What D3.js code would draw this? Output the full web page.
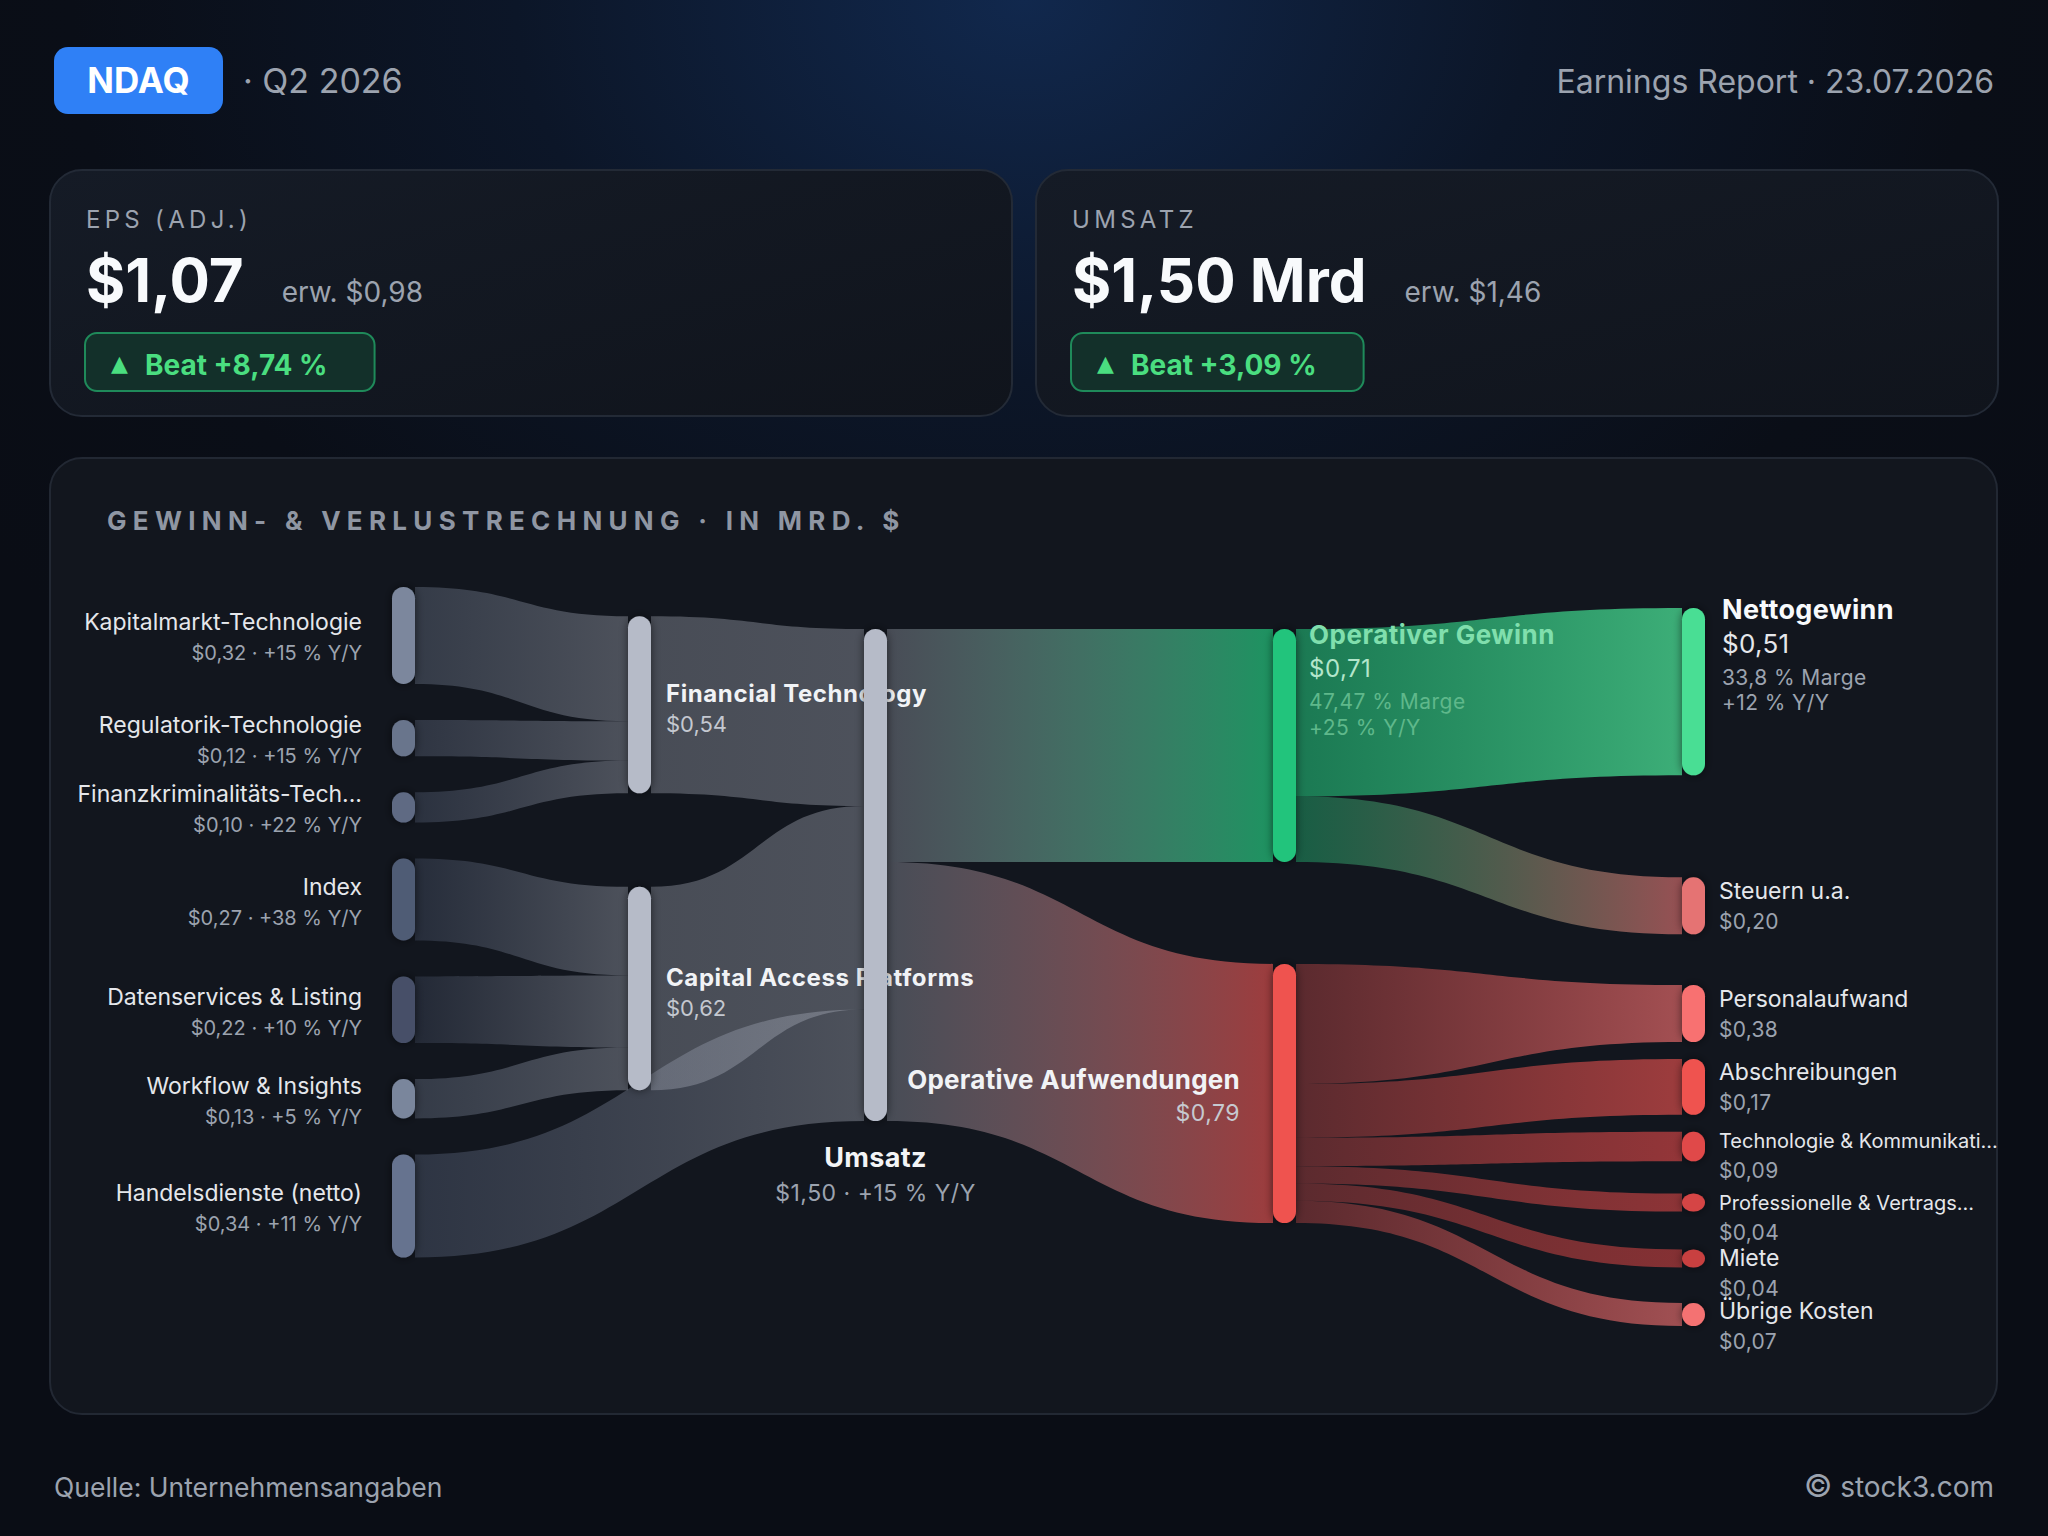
<!DOCTYPE html>
<html>
<head>
<meta charset="utf-8">
<script src="https://cdn.jsdelivr.net/npm/d3@7"></script>
<style>
  html, body { margin: 0; padding: 0; background: #0a0e16; }
  svg { display: block; font-family: Inter, 'Noto Sans', sans-serif; }
</style>
</head>
<body>
<svg id="chart" width="2048" height="1536"></svg>
<script>
const W = 2048
const H = 1536

// Kopfzeile und Kennzahlen
const ticker = 'NDAQ'
const quarter = 'Q2 2026'
const reportDate = '23.07.2026'
const kpiTitles = ['EPS (ADJ.)', 'UMSATZ']
const kpiActual = [1.07, 1.50]
const kpiUnit = ['', ' Mrd']
const kpiEstimate = [0.98, 1.46]
const kpiBeat = [8.74, 3.09]

// Segmente (linke Spalte)
const segmentNames = ['Kapitalmarkt-Technologie', 'Regulatorik-Technologie', 'Finanzkriminalitäts-Tech...', 'Index', 'Datenservices & Listing', 'Workflow & Insights', 'Handelsdienste (netto)']
const segmentValues = [0.32, 0.12, 0.10, 0.27, 0.22, 0.13, 0.34]
const segmentGrowth = [15, 15, 22, 38, 10, 5, 11]
const segmentDivision = [0, 0, 0, 1, 1, 1, -1] // -1 = direkt in den Umsatz

// Sparten und Umsatz
const divisionNames = ['Financial Technology', 'Capital Access Platforms']
const divisionValues = [0.54, 0.62]
const revenueName = 'Umsatz'
const revenueValue = 1.50
const revenueGrowth = 15

// Operatives Ergebnis
const opNames = ['Operativer Gewinn', 'Operative Aufwendungen']
const opValues = [0.71, 0.79]
const opMargin = 47.47
const opGrowth = 25

// Rechte Spalte
const netName = 'Nettogewinn'
const netValue = 0.51
const netMargin = 33.8
const netGrowth = 12
const taxName = 'Steuern u.a.'
const taxValue = 0.20
const costNames = ['Personalaufwand', 'Abschreibungen', 'Technologie & Kommunikati...', 'Professionelle & Vertrags...', 'Miete', 'Übrige Kosten']
const costValues = [0.38, 0.17, 0.09, 0.04, 0.04, 0.07]

// Farben
const nodeColor = {
  seg0: '#7b879d', seg1: '#69748c', seg2: '#5e6a83', seg3: '#505c75', seg4: '#465067', seg5: '#7a869c', seg6: '#66738f',
  div0: '#b6bbc8', div1: '#b6bbc8', rev: '#b6bbc8',
  op0: '#22c47b', op1: '#ef5350', net: '#4ade94', tax: '#e57373',
  cost0: '#f87171', cost1: '#ef5350', cost2: '#e04848', cost3: '#d54545', cost4: '#c84040', cost5: '#f47272'
}

const de = d3.formatLocale({ decimal: ',', thousands: '.', grouping: [3], currency: ['$', ''] })
const money = de.format('$.2f')
const f2 = de.format('.2f')
const f1 = de.format('.1f')

const svg = d3.select('#chart')
const defs = svg.append('defs')

// Hintergrund
const glow = defs.append('radialGradient').attr('id', 'bgGlow').attr('cx', 0.5).attr('cy', 0).attr('r', 0.62)
glow.selectAll('stop')
  .data([[0, '#11284d'], [0.4, '#0c1628'], [0.75, '#0a0e17'], [1, '#0a0d15']])
  .join('stop')
  .attr('offset', d => d[0])
  .attr('stop-color', d => d[1])
svg.append('rect').attr('width', W).attr('height', H).attr('fill', '#0a0e16')
svg.append('rect').attr('width', W).attr('height', H).attr('fill', 'url(#bgGlow)')

const cardFill = defs.append('linearGradient').attr('id', 'cardFill').attr('x1', 0).attr('y1', 0).attr('x2', 1).attr('y2', 1)
cardFill.append('stop').attr('offset', 0).attr('stop-color', '#151b26')
cardFill.append('stop').attr('offset', 1).attr('stop-color', '#10141c')

const shadow = defs.append('filter').attr('id', 'nodeShadow')
  .attr('x', '-150%').attr('y', '-30%').attr('width', '400%').attr('height', '160%')
shadow.append('feDropShadow').attr('dx', 0).attr('dy', 0).attr('stdDeviation', 5)
  .attr('flood-color', '#000').attr('flood-opacity', 0.55)

// Kopfzeile
svg.append('rect').attr('x', 54).attr('y', 47).attr('width', 169).attr('height', 67).attr('rx', 14).attr('fill', '#2f80f6')
svg.append('text').attr('x', 138.5).attr('y', 93).attr('text-anchor', 'middle')
  .attr('font-size', 35).attr('font-weight', 700).attr('fill', '#ffffff').text(ticker)
svg.append('text').attr('x', 243).attr('y', 93).attr('font-size', 34).attr('fill', '#9ca3af').text(`· ${quarter}`)
svg.append('text').attr('x', 1994).attr('y', 93).attr('text-anchor', 'end')
  .attr('font-size', 32).attr('fill', '#9ca3af').text(`Earnings Report · ${reportDate}`)

// Kennzahlkarten
const cardX = [50, 1036]
kpiTitles.forEach((title, i) => {
  const g = svg.append('g').attr('transform', `translate(${cardX[i]},170)`)
  g.append('rect').attr('width', 962).attr('height', 246).attr('rx', 32)
    .attr('fill', 'url(#cardFill)').attr('stroke', '#232a36').attr('stroke-width', 2)
  g.append('text').attr('x', 36).attr('y', 58).attr('font-size', 24).attr('letter-spacing', 4.3)
    .attr('fill', '#9ca3af').text(title)
  const big = g.append('text').attr('x', 36).attr('y', 132).attr('font-size', 60).attr('font-weight', 700)
    .attr('fill', '#f8fafc').text(money(kpiActual[i]) + kpiUnit[i])
  const bigEnd = 36 + big.node().getComputedTextLength()
  g.append('text').attr('x', bigEnd + 38).attr('y', 132).attr('font-size', 28)
    .attr('fill', '#9ca3af').text(`erw. ${money(kpiEstimate[i])}`)
  const pill = g.append('rect').attr('x', 35).attr('y', 163).attr('height', 58).attr('rx', 12)
    .attr('fill', '#13302a').attr('stroke', '#1f8a5a').attr('stroke-width', 2)
  g.append('text').attr('x', 61).attr('y', 201).attr('font-size', 22).attr('fill', '#4ade80')
    .attr('font-family', 'DejaVu Sans').text('▲')
  const beat = g.append('text').attr('x', 95).attr('y', 205).attr('font-size', 28).attr('font-weight', 700)
    .attr('fill', '#4ade80').text(`Beat +${f2(kpiBeat[i])} %`)
  pill.attr('width', 95 + beat.node().getComputedTextLength() + 47 - 35)
})

// Panel
svg.append('rect').attr('x', 50).attr('y', 458).attr('width', 1947).attr('height', 956).attr('rx', 32)
  .attr('fill', '#12161e').attr('stroke', '#222833').attr('stroke-width', 2)
svg.append('text').attr('x', 107).attr('y', 530).attr('font-size', 26).attr('font-weight', 700)
  .attr('letter-spacing', 6.3).attr('fill', '#8f96a3').text('GEWINN- & VERLUSTRECHNUNG · IN MRD. $')

// Fussleiste
svg.append('text').attr('x', 54).attr('y', 1497).attr('font-size', 26.5).attr('fill', '#9ca3af').text('Quelle: Unternehmensangaben')
const copy = svg.append('text').attr('x', 1994).attr('y', 1497).attr('text-anchor', 'end').attr('font-size', 28).attr('fill', '#9ca3af')
copy.append('tspan').attr('font-size', 31).text('©')
copy.append('tspan').text(' stock3.com')

// ---- Sankey-Graph ----
const nodes = []
const links = []
function addNode (id, name, value, col, kind) {
  const n = { id, name, value, col, kind, sourceLinks: [], targetLinks: [] }
  nodes.push(n)
  return n
}
function addLink (source, target, value) {
  const l = { source, target, value }
  source.sourceLinks.push(l)
  target.targetLinks.push(l)
  links.push(l)
}

const segNodes = segmentNames.map((name, i) => addNode('seg' + i, name, segmentValues[i], 0, 'neutral'))
const divNodes = divisionNames.map((name, i) => addNode('div' + i, name, divisionValues[i], 1, 'neutral'))
const revNode = addNode('rev', revenueName, revenueValue, 2, 'neutral')
const opNodes = opNames.map((name, i) => addNode('op' + i, name, opValues[i], 3, i === 0 ? 'profit' : 'cost'))
const netNode = addNode('net', netName, netValue, 4, 'profit')
const taxNode = addNode('tax', taxName, taxValue, 4, 'cost')
const costNodes = costNames.map((name, i) => addNode('cost' + i, name, costValues[i], 4, 'cost'))

segNodes.forEach((n, i) => addLink(n, segmentDivision[i] < 0 ? revNode : divNodes[segmentDivision[i]], n.value))
divNodes.forEach(n => addLink(n, revNode, n.value))
opNodes.forEach(n => addLink(revNode, n, n.value))
addLink(opNodes[0], netNode, netValue)
addLink(opNodes[0], taxNode, taxValue)
costNodes.forEach(n => addLink(opNodes[1], n, n.value))

// Layout
const L = { top: 587, bottom: 1326, nodeW: 23, gap0: 36, spineDrop: 42, bigGap: 102, minH: 18, capH: 57, edgeGap: 17, labelStep: 56, minLink: 18 }
const colX = d3.scaleLinear().domain([0, 2, 4]).range([392, 864, 1682])
const hScale0 = d3.scaleLinear().domain([0, 1]).range([0, 303])
const hScale = d3.scaleLinear().domain([0, 1]).range([0, 328])

nodes.forEach(n => {
  n.x0 = colX(n.col)
  n.x1 = n.x0 + L.nodeW
  let h = Math.max(L.minH, (n.col === 0 ? hScale0 : hScale)(n.value))
  if (n.col === 4 && n.kind === 'cost') h = Math.min(h, L.capH)
  n.h = h
})
const column = c => nodes.filter(n => n.col === c)
const place = (n, y0) => { n.y0 = y0; n.y1 = y0 + n.h }

function stackOut (n) {
  const total = d3.sum(n.sourceLinks, l => l.value)
  const w = n.sourceLinks.length === 1
    ? [n.h]
    : n.sourceLinks.map(l => Math.max(L.minLink, l.value / total * n.h))
  const f = n.h / d3.sum(w)
  let y = n.y0
  n.sourceLinks.forEach((l, i) => { l.sy0 = y; l.sy1 = y + w[i] * f; y = l.sy1 })
}

// Spalte 0: gestapelt
let yy = L.top
column(0).forEach(n => { place(n, yy); yy = n.y1 + L.gap0 })

// Spalte 1: mittig zu ihren Quellen
column(1).forEach(n => {
  const src = n.targetLinks.map(l => l.source)
  const c = (d3.min(src, s => s.y0) + d3.max(src, s => s.y1)) / 2
  place(n, c - n.h / 2)
})

// Spalte 2: Umsatz
place(revNode, L.top + L.spineDrop)
stackOut(revNode)

// Spalte 3: an der Quelle ausgerichtet, mit Abstand
const col3 = column(3)
col3.forEach(n => {
  const l = n.targetLinks[0]
  place(n, (l.sy0 + l.sy1) / 2 - n.h / 2)
})
for (let i = 1; i < col3.length; i++) {
  if (col3[i].y0 < col3[i - 1].y1 + L.bigGap) place(col3[i], col3[i - 1].y1 + L.bigGap)
}
col3.forEach(stackOut)

// Spalte 4: von oben gestapelt, danach von unten zusammengeschoben
const col4 = column(4)
const cy = []
let y4 = L.top + L.spineDrop / 2
col4.forEach((n, i) => { cy[i] = y4 + n.h / 2; y4 += n.h + L.bigGap })
const sep = (a, b) => Math.max((a.h + b.h) / 2 + L.edgeGap, L.labelStep)
const last = col4.length - 1
cy[last] = Math.min(cy[last], L.bottom - col4[last].h / 2)
for (let i = last - 1; i >= 0; i--) cy[i] = Math.min(cy[i], cy[i + 1] - sep(col4[i], col4[i + 1]))
col4.forEach((n, i) => place(n, cy[i] - n.h / 2))

column(0).concat(column(1)).forEach(stackOut)

nodes.forEach(n => {
  n.targetLinks.sort((a, b) => a.source.y0 - b.source.y0)
  const total = d3.sum(n.targetLinks, l => l.value)
  let y = n.y0
  n.targetLinks.forEach(l => { l.ty0 = y; l.ty1 = y + l.value / total * n.h; y = l.ty1 })
})

// Verlaeufe der Verbindungen
function stopOpacity (l) {
  const s = l.source
  const t = l.target
  const so = s.kind === 'neutral' ? 0.33 : (s.kind === 'profit' ? (t.kind === 'profit' ? 0.57 : 0.41) : 0.33)
  const to = t.kind === 'neutral' ? 0.36 : (t.id === 'net' ? 0.76 : (t.kind === 'profit' ? 0.72 : 0.63))
  return [so, to]
}
links.forEach((l, i) => {
  const [so, to] = stopOpacity(l)
  const gr = defs.append('linearGradient').attr('id', 'lg' + i).attr('gradientUnits', 'userSpaceOnUse')
    .attr('x1', l.source.x1).attr('x2', l.target.x0).attr('y1', 0).attr('y2', 0)
  gr.append('stop').attr('offset', 0).attr('stop-color', nodeColor[l.source.id]).attr('stop-opacity', so)
  gr.append('stop').attr('offset', 1).attr('stop-color', nodeColor[l.target.id]).attr('stop-opacity', to)
})

function linkPath (l) {
  const xa = l.source.x1
  const xb = l.target.x0
  const xm = (xa + xb) / 2
  const p = d3.path()
  p.moveTo(xa, l.sy0)
  p.bezierCurveTo(xm, l.sy0, xm, l.ty0, xb, l.ty0)
  p.lineTo(xb, l.ty1)
  p.bezierCurveTo(xm, l.ty1, xm, l.sy1, xa, l.sy1)
  p.closePath()
  return p.toString()
}

const chart = svg.append('g')
chart.append('g').selectAll('path')
  .data(links)
  .join('path')
  .attr('d', linkPath)
  .attr('fill', (d, i) => `url(#lg${i})`)

// Beschriftungen
const labels = chart.append('g')
function label (x, y, text, size, fill, opts = {}) {
  return labels.append('text')
    .attr('x', x).attr('y', y)
    .attr('font-size', size)
    .attr('font-weight', opts.bold ? 700 : 400)
    .attr('text-anchor', opts.anchor || 'start')
    .attr('letter-spacing', opts.ls || 0)
    .attr('fill', fill)
    .text(text)
}
const mid = n => (n.y0 + n.y1) / 2

segNodes.forEach((n, i) => {
  label(n.x0 - 30, mid(n) - 5, n.name, 23, '#e5e7eb', { anchor: 'end' })
  label(n.x0 - 30, mid(n) + 25, `${money(n.value)} · +${segmentGrowth[i]} % Y/Y`, 20, '#9ca3af', { anchor: 'end' })
})
divNodes.forEach(n => {
  label(n.x1 + 15, mid(n) - 3, n.name, 24, '#f1f3f6', { bold: true, ls: 0.6 })
  label(n.x1 + 15, mid(n) + 27, money(n.value), 22, '#c4c8d0')
})
label((revNode.x0 + revNode.x1) / 2, revNode.y1 + 46, revNode.name, 27, '#f3f4f6', { bold: true, anchor: 'middle', ls: 0.3 })
label((revNode.x0 + revNode.x1) / 2, revNode.y1 + 80, `${money(revenueValue)} · +${revenueGrowth} % Y/Y`, 23, '#9ca3af', { anchor: 'middle', ls: 0.5 })

const opG = opNodes[0]
label(opG.x1 + 13, opG.y0 + 15, opG.name, 26, '#80dfad', { bold: true, ls: 0.5 })
label(opG.x1 + 13, opG.y0 + 48, money(opG.value), 24, '#b3e6cb', { ls: 0.5 })
label(opG.x1 + 13, opG.y0 + 80, `${f2(opMargin)} % Marge`, 21, '#5fb88b', { ls: 0.5 })
label(opG.x1 + 13, opG.y0 + 106, `+${opGrowth} % Y/Y`, 21, '#5fb88b', { ls: 0.5 })

const opA = opNodes[1]
label(opA.x0 - 33, mid(opA) - 4, opA.name, 26, '#f1f3f6', { bold: true, anchor: 'end', ls: 0.25 })
label(opA.x0 - 33, mid(opA) + 28, money(opA.value), 23, '#c6c9d0', { anchor: 'end', ls: 0.5 })

label(netNode.x1 + 17, netNode.y0 + 11, netNode.name, 27, '#f8fafc', { bold: true, ls: 0.3 })
label(netNode.x1 + 17, netNode.y0 + 45, money(netNode.value), 26, '#e5e7eb', { ls: 0.3 })
label(netNode.x1 + 17, netNode.y0 + 77, `${f1(netMargin)} % Marge`, 21, '#9ca3af', { ls: 0.4 })
label(netNode.x1 + 17, netNode.y0 + 102, `+${netGrowth} % Y/Y`, 21, '#9ca3af', { ls: 0.4 })

;[taxNode].concat(costNodes).forEach(n => {
  const b1 = Math.max(n.y0 + 16, mid(n) - 7)
  label(n.x1 + 14, b1, n.name, n.name.length > 20 ? 20 : 23, '#e5e7eb')
  label(n.x1 + 14, b1 + 30, money(n.value), 21, '#9ca3af', { ls: 0.3 })
})

// Knoten
chart.append('g').selectAll('rect')
  .data(nodes)
  .join('rect')
  .attr('x', d => d.x0)
  .attr('y', d => d.y0)
  .attr('width', d => d.x1 - d.x0)
  .attr('height', d => d.h)
  .attr('rx', L.nodeW / 2)
  .attr('ry', d => Math.min(L.nodeW / 2, d.h / 2))
  .attr('fill', d => nodeColor[d.id])
  .attr('filter', 'url(#nodeShadow)')
</script>
</body>
</html>
